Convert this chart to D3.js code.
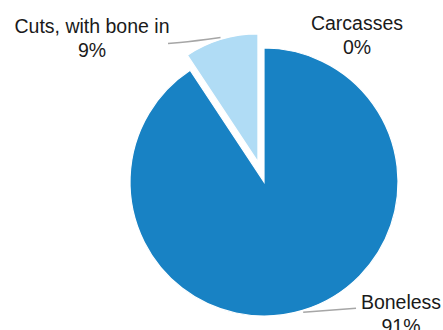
<!DOCTYPE html>
<html>
<head>
<meta charset="utf-8">
<script src="https://cdn.jsdelivr.net/npm/d3@7"></script>
<style>
  body { margin: 0; background: white; }
  svg { display: block; }
  text { font-family: "Liberation Sans", Arial, sans-serif; }
</style>
</head>
<body>
<div id="chart"></div>
<script>
let width = 443
let height = 330

// data (share of exports, %)
let categories = ["Carcasses", "Boneless", "Cuts, with bone in"]
let shares = [0, 90.7, 9.3]

let colors = d3.scaleOrdinal()
    .domain(categories)
    .range(["#0d5a8f", "#1882c4", "#b0dcf5"])

// layout
let cx = 264, cy = 182
let radius = 134
let explodeName = "Cuts, with bone in"
let explodeDist = 21
let explodeRadius = 128

// label anchors (text centre, first baseline) and leader line settings
let labelPos = {
    "Carcasses": { x: 357, y: 30, leader: false },
    "Boneless": { x: 401, y: 309, leader: true, side: "right" },
    "Cuts, with bone in": { x: 92, y: 33, leader: true, side: "left" }
}

let svg = d3.select("#chart")
    .append("svg")
    .attr("width", width)
    .attr("height", height)

let data = categories.map((c, i) => ({ name: c, value: shares[i] }))

let pie = d3.pie()
    .sort(null)
    .value(d => d.value)

let arcs = pie(data)

let g = svg.append("g").attr("transform", `translate(${cx},${cy})`)

function offsetOf(d) {
    if (d.data.name !== explodeName) return [0, 0]
    let a = (d.startAngle + d.endAngle) / 2
    return [Math.sin(a) * explodeDist, -Math.cos(a) * explodeDist]
}
function radiusOf(d) {
    return d.data.name === explodeName ? explodeRadius : radius
}

g.selectAll("path")
    .data(arcs.filter(d => d.value > 0))
    .join("path")
    .attr("transform", d => `translate(${offsetOf(d)})`)
    .attr("d", d => d3.arc().innerRadius(0).outerRadius(radiusOf(d))(d))
    .attr("fill", d => colors(d.data.name))
    .attr("stroke", "white")
    .attr("stroke-width", 1.2)

// leader lines
arcs.forEach(d => {
    let p = labelPos[d.data.name]
    if (!p.leader) return
    let a = (d.startAngle + d.endAngle) / 2
    let off = offsetOf(d)
    let r = radiusOf(d) + 2
    let x0 = cx + off[0] + Math.sin(a) * r
    let y0 = cy + off[1] - Math.cos(a) * r
    let pts
    if (p.side === "left") {
        let xe = p.x + 76
        pts = [[x0, y0], [xe + 12, y0 + 5], [xe, y0 + 6]]
    } else {
        let xe = p.x - 45
        pts = [[x0, y0], [xe, y0 - 4]]
    }
    svg.append("path")
        .attr("d", d3.line().curve(d3.curveMonotoneX)(pts.slice().sort((m, n) => m[0] - n[0])))
        .attr("fill", "none")
        .attr("stroke", "#a6a6a6")
        .attr("stroke-width", 1.5)
})

// labels
arcs.forEach(d => {
    let p = labelPos[d.data.name]
    let t = svg.append("text")
        .attr("text-anchor", "middle")
        .attr("font-size", "19.5px")
        .attr("fill", "#1a1a1a")
    t.append("tspan").attr("x", p.x).attr("y", p.y).text(d.data.name)
    t.append("tspan").attr("x", p.x).attr("y", p.y + 23.5).text(Math.round(d.data.value) + "%")
})
</script>
</body>
</html>
